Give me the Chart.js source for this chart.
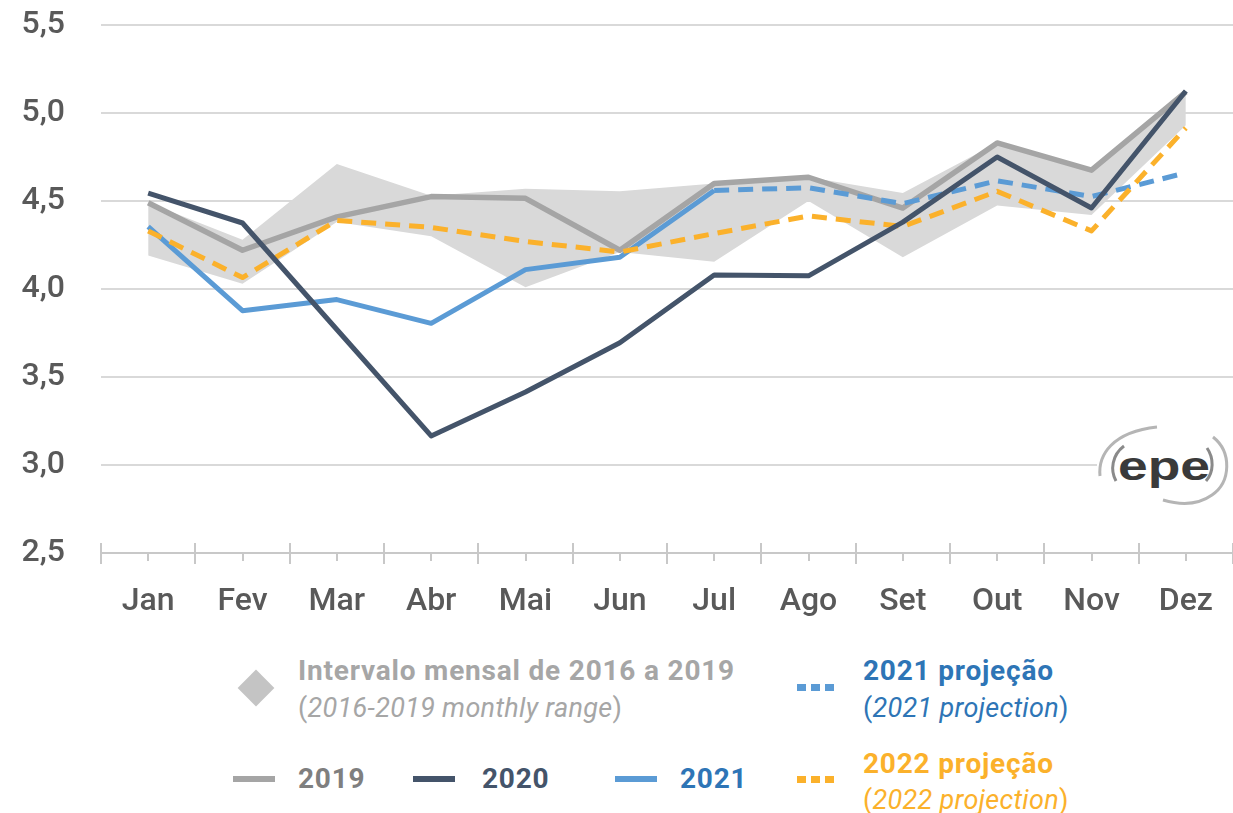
<!DOCTYPE html>
<html>
<head>
<meta charset="utf-8">
<script src="https://cdn.jsdelivr.net/npm/chart.js@4"></script>
<style>
  html, body { margin: 0; padding: 0; background: #fff; }
  body { width: 1233px; height: 813px; position: relative; overflow: hidden; font-family: Roboto, "Noto Sans", sans-serif; }
  #wrap { position: absolute; left: 0; top: 0; width: 1233px; height: 630px; }
  .lg { position: absolute; font-size: 27px; line-height: 27px; white-space: nowrap; letter-spacing: 0.3px; }
  .b { font-weight: 700; font-size: 28px; line-height: 28px; letter-spacing: 0.8px; }
  .it { font-style: italic; }
  .sw { position: absolute; height: 6px; }
  .dot { position: absolute; width: 9px; height: 7px; }
  #logo { position: absolute; left: 1095px; top: 420px; }
</style>
</head>
<body>
<div id="wrap"><canvas id="chart" width="1233" height="630"></canvas></div>

<svg id="logo" width="138" height="92" viewBox="1095 420 138 92">
  <rect x="1097" y="424" width="136" height="86" fill="#fff"/>
  <path d="M1100 476 C1098 455 1112 432 1157 427" fill="none" stroke="#b5b5b5" stroke-width="3"/>
  <path d="M1116 481 C1110 470 1112 455 1124 446" fill="none" stroke="#8a8a8a" stroke-width="3"/>
  <path d="M1207 448 C1214 458 1214 472 1206 481" fill="none" stroke="#8a8a8a" stroke-width="3"/>
  <path d="M1213 437 C1232 452 1231 482 1212 495 C1198 505 1180 505 1163 500" fill="none" stroke="#b5b5b5" stroke-width="3"/>
  <text x="1118" y="480" textLength="92" lengthAdjust="spacingAndGlyphs" font-family="Liberation Sans, Arial, sans-serif" font-weight="700" font-size="40" fill="#3a3a3a">epe</text>
</svg>

<!-- legend -->
<div style="position:absolute;left:243px;top:675px;width:26px;height:26px;background:#c4c4c4;transform:rotate(45deg);"></div>
<div class="lg b" style="left:298px;top:657px;color:#a6a6a6;">Intervalo mensal de 2016 a 2019</div>
<div class="lg" style="left:298px;top:695px;color:#a6a6a6;">(<span class="it">2016-2019 monthly range</span>)</div>

<div class="dot" style="left:797px;top:684px;background:#5b9bd5;"></div>
<div class="dot" style="left:811px;top:684px;background:#5b9bd5;"></div>
<div class="dot" style="left:825px;top:684px;background:#5b9bd5;"></div>
<div class="lg b" style="left:863px;top:657px;color:#2e75b6;">2021 projeção</div>
<div class="lg" style="left:863px;top:695px;color:#2e75b6;">(<span class="it">2021 projection</span>)</div>

<div class="sw" style="left:233px;top:776px;width:42px;background:#a5a5a5;"></div>
<div class="lg b" style="left:298px;top:765px;color:#7f7f7f;">2019</div>
<div class="sw" style="left:413px;top:776px;width:42px;background:#44546a;"></div>
<div class="lg b" style="left:482px;top:765px;color:#44546a;">2020</div>
<div class="sw" style="left:615px;top:776px;width:42px;background:#5b9bd5;"></div>
<div class="lg b" style="left:680px;top:765px;color:#2e75b6;">2021</div>

<div class="dot" style="left:797px;top:776px;background:#fbb12b;"></div>
<div class="dot" style="left:811px;top:776px;background:#fbb12b;"></div>
<div class="dot" style="left:825px;top:776px;background:#fbb12b;"></div>
<div class="lg b" style="left:863px;top:750px;color:#fbb12b;">2022 projeção</div>
<div class="lg" style="left:863px;top:787px;color:#fbb12b;">(<span class="it">2022 projection</span>)</div>

<script>
"use strict";

// --- Data ----------------------------------------------------------------- //
const MONTHS = ["Jan", "Fev", "Mar", "Abr", "Mai", "Jun", "Jul", "Ago", "Set", "Out", "Nov", "Dez"];

const RANGE_MAX = [4.49, 4.28, 4.71, 4.53, 4.57, 4.555, 4.60, 4.635, 4.545, 4.83, 4.675, 5.12];
const RANGE_MIN = [4.19, 4.03, 4.38, 4.30, 4.01, 4.21, 4.155, 4.50, 4.18, 4.475, 4.42, 4.93];

const V2019 = [4.49, 4.22, 4.41, 4.525, 4.515, 4.22, 4.60, 4.635, 4.46, 4.83, 4.675, 5.12];
const V2020 = [4.545, 4.375, 3.77, 3.165, 3.415, 3.695, 4.08, 4.075, 4.38, 4.75, 4.46, 5.125];
const V2021 = [4.355, 3.877, 3.94, 3.805, 4.11, 4.18, 4.56, null, null, null, null, null];
const PROJ2021 = [null, null, null, null, null, null, 4.56, 4.575, 4.485, 4.615, 4.525, 4.66];
const PROJ2022 = [4.33, 4.065, 4.39, 4.35, 4.27, 4.21, 4.315, 4.415, 4.355, 4.555, 4.33, 4.915];

const Y_MIN = 2.5, Y_MAX = 5.5, Y_STEP = 0.5;

// --- Helpers --------------------------------------------------------------- //
function line(data, color, width, order, dash) {
  return {
    data,
    borderColor: color,
    borderWidth: width,
    borderDash: dash || [],
    pointRadius: 0,
    tension: 0,
    fill: false,
    order,
    borderJoinStyle: "round",
    spanGaps: false,
  };
}

// Category axis drawn like the original: boundary ticks crossing the axis,
// short ticks under each month.
const xAxisPlugin = {
  id: "xAxisTicks",
  afterDatasetsDraw(chart) {
    const { ctx, chartArea, scales } = chart;
    const x = scales.x;
    const y0 = chartArea.bottom;
    const n = MONTHS.length;
    const half = (x.getPixelForTick(1) - x.getPixelForTick(0)) / 2;
    ctx.save();
    ctx.strokeStyle = "#c8c8c8";
    ctx.lineWidth = 2;
    ctx.beginPath();
    ctx.moveTo(chartArea.left, y0);
    ctx.lineTo(chartArea.right, y0);
    for (let i = 0; i <= n; i++) {
      const px = Math.round(x.getPixelForTick(Math.min(i, n - 1)) + (i === n ? half : -half));
      ctx.moveTo(px, y0 - 10);
      ctx.lineTo(px, y0 + 11);
    }
    for (let i = 0; i < n; i++) {
      const px = Math.round(x.getPixelForTick(i));
      ctx.moveTo(px, y0);
      ctx.lineTo(px, y0 + 8);
    }
    ctx.stroke();
    ctx.restore();
  },
};

// --- Chart ----------------------------------------------------------------- //
const datasets = [
  Object.assign(line(RANGE_MAX, "rgba(0,0,0,0)", 0, 6), { fill: "+1", backgroundColor: "#d9d9d9" }),
  line(RANGE_MIN, "rgba(0,0,0,0)", 0, 7),
  line(V2019, "#a5a5a5", 5.5, 5),
  line(V2021, "#5b9bd5", 5, 4),
  line(PROJ2021, "#5b9bd5", 5, 3, [15, 9]),
  line(PROJ2022, "#fbb12b", 5, 2, [15, 9]),
  line(V2020, "#44546a", 5, 1),
];

const TICK_FONT = { family: "Roboto", size: 32, weight: "500" };

new Chart(document.getElementById("chart"), {
  type: "line",
  data: { labels: MONTHS, datasets },
  options: {
    responsive: false,
    animation: false,
    layout: { padding: { top: 25, right: 0, left: 0, bottom: 0 } },
    plugins: { legend: { display: false }, tooltip: { enabled: false } },
    scales: {
      x: {
        offset: true,
        grid: { display: false },
        border: { display: false },
        ticks: { color: "#595959", font: TICK_FONT, padding: 22, maxRotation: 0 },
        afterFit: (s) => { s.height = 630 - 553; s.paddingLeft = 0; s.paddingRight = 0; },
      },
      y: {
        min: Y_MIN,
        max: Y_MAX,
        grid: { color: "#d9d9d9", lineWidth: 2, drawTicks: false },
        border: { display: false },
        ticks: {
          stepSize: Y_STEP,
          color: "#595959",
          font: TICK_FONT,
          padding: 36,
          callback: (v) => v.toFixed(1).replace(".", ","),
        },
        afterFit: (s) => { s.width = 101; s.paddingTop = 0; s.paddingBottom = 0; },
      },
    },
  },
  plugins: [xAxisPlugin],
});
</script>
</body>
</html>
